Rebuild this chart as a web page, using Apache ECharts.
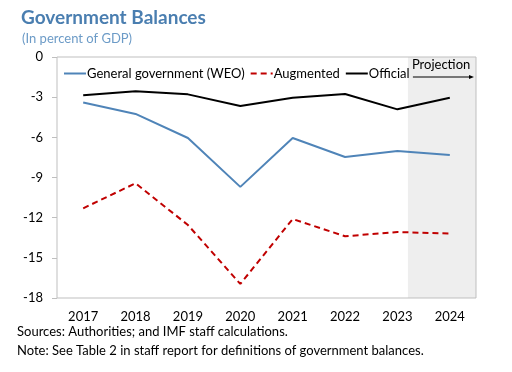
<!DOCTYPE html>
<html>
<head>
<meta charset="utf-8">
<script src="https://cdn.jsdelivr.net/npm/echarts@6/dist/echarts.min.js"></script>
<style>
html,body{margin:0;padding:0;background:#fff;}
#chart{width:512px;height:372px;}
</style>
</head>
<body>
<div id="chart"></div>
<script>
var years = ['2017','2018','2019','2020','2021','2022','2023','2024'];
var generalGov = [-3.4, -4.25, -6.05, -9.7, -6.05, -7.47, -7.02, -7.32];
var augmented = [-11.3, -9.43, -12.55, -16.95, -12.1, -13.39, -13.07, -13.19];
var official = [-2.86, -2.56, -2.79, -3.66, -3.04, -2.76, -3.91, -3.04];
var yTicks = [0, -3, -6, -9, -12, -15, -18];

var FONT = 'Lato';
var chart = echarts.init(document.getElementById('chart'));
var option = {
  animation: false,
  backgroundColor: '#ffffff',
  textStyle: { fontFamily: FONT },
  title: [
    { text: 'Government Balances', left: 16, top: 3,
      textStyle: { fontFamily: FONT, fontSize: 19, fontWeight: 'bold', color: '#4a7eb0' } },
    { text: '(In percent of GDP)', left: 17, top: 27,
      textStyle: { fontFamily: FONT, fontSize: 13, fontWeight: 'normal', color: '#6c9bc7' } }
  ],
  legend: {
    left: 58, top: 62, itemGap: 5, itemWidth: 22, itemHeight: 10,
    itemStyle: { opacity: 0 },
    textStyle: { fontFamily: FONT, fontSize: 13, color: '#000', padding: [0,0,0,-4] },
    data: ['General government (WEO)', 'Augmented', 'Official']
  },
  grid: { left: 57, top: 57, width: 419, height: 241, show: true, borderColor: '#bfbfbf', borderWidth: 1, backgroundColor: 'transparent' },
  xAxis: {
    type: 'category', data: years, boundaryGap: true,
    axisLine: { show: false }, axisTick: { show: false },
    axisLabel: { fontFamily: FONT, fontSize: 13, color: '#000', margin: 12 },
    splitLine: { show: false }
  },
  yAxis: {
    type: 'value', min: -18, max: 0, interval: 3,
    axisLine: { show: false },
    axisTick: { show: true, length: 5, inside: false, lineStyle: { color: '#bfbfbf' } },
    axisLabel: { fontFamily: FONT, fontSize: 13, color: '#000', margin: 14 },
    splitLine: { show: false }
  },
  series: [
    { name: 'General government (WEO)', type: 'line', data: generalGov, symbol: 'none',
      lineStyle: { color: '#4f84b8', width: 2 }, itemStyle: { color: '#4f84b8' }, z: 3 },
    { name: 'Augmented', type: 'line', data: augmented, symbol: 'none',
      lineStyle: { color: '#c00000', width: 2, type: [6, 4] }, itemStyle: { color: '#c00000' }, z: 3 },
    { name: 'Official', type: 'line', data: official, symbol: 'none',
      lineStyle: { color: '#000000', width: 2 }, itemStyle: { color: '#000000' }, z: 3 }
  ]
};
chart.setOption(option);

var x2023 = chart.convertToPixel({ xAxisIndex: 0 }, '2023');
var x2024 = chart.convertToPixel({ xAxisIndex: 0 }, '2024');
var band = x2024 - x2023;
var shadeLeft = x2023 + band * 0.2;
var yTop = chart.convertToPixel({ yAxisIndex: 0 }, 0);
var yBot = chart.convertToPixel({ yAxisIndex: 0 }, -18);
var xRight = 57 + 419;
chart.setOption({
  graphic: [
    { type: 'rect', z: -1, silent: true,
      shape: { x: shadeLeft, y: yTop, width: xRight - shadeLeft, height: yBot - yTop },
      style: { fill: '#eeeeee' } },
    { type: 'text', z: 10, left: shadeLeft + 4, top: yTop + 1,
      style: { text: 'Projection', font: '13px ' + FONT, fill: '#000' } },
    { type: 'line', z: 10, shape: { x1: shadeLeft + 5, y1: yTop + 20, x2: xRight - 5, y2: yTop + 20 },
      style: { stroke: '#000', lineWidth: 1 } },
    { type: 'polygon', z: 10, shape: { points: [[xRight - 2, yTop + 20], [xRight - 7, yTop + 18], [xRight - 7, yTop + 22]] },
      style: { fill: '#000' } },
    { type: 'text', left: 17, top: 325,
      style: { text: 'Sources: Authorities; and IMF staff calculations.', font: '13px ' + FONT, fill: '#000' } },
    { type: 'text', left: 17, top: 344,
      style: { text: 'Note: See Table 2 in staff report for definitions of government balances.', font: '13px ' + FONT, fill: '#000' } }
  ]
});
</script>
</body>
</html>
